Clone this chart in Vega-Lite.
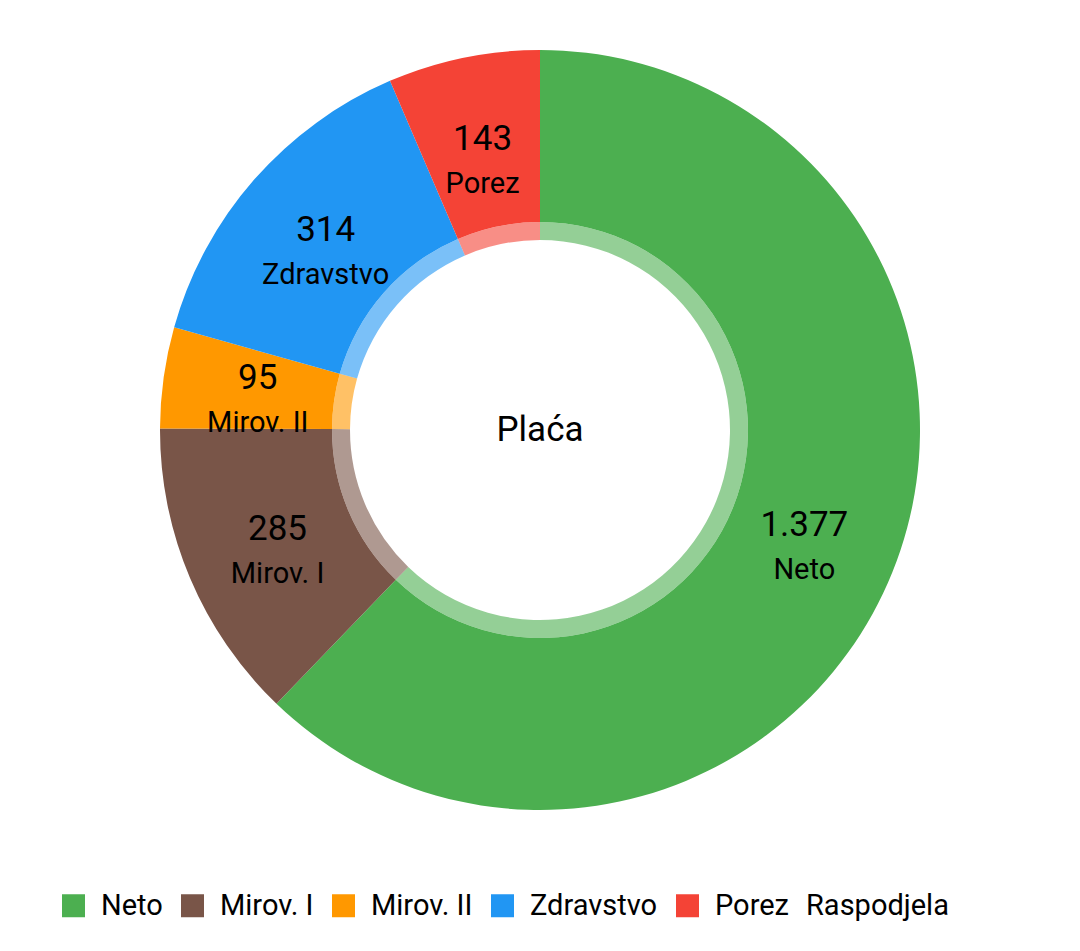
{
  "$schema": "https://vega.github.io/schema/vega-lite/v6.json",
  "width": 984,
  "height": 796,
  "autosize": {"type": "none"},
  "padding": {"left": 48, "top": 32, "right": 48, "bottom": 123},
  "background": "white",
  "config": {
    "view": {"stroke": null},
    "font": "Roboto",
    "locale": {"number": {"decimal": ",", "thousands": ".", "grouping": [3], "currency": ["", ""]}}
  },
  "data": {
    "values": [
      {"idx": 1, "kategorija": "Neto", "iznos": 1377},
      {"idx": 2, "kategorija": "Mirov. I", "iznos": 285},
      {"idx": 3, "kategorija": "Mirov. II", "iznos": 95},
      {"idx": 4, "kategorija": "Zdravstvo", "iznos": 314},
      {"idx": 5, "kategorija": "Porez", "iznos": 143}
    ]
  },
  "encoding": {
    "theta": {"field": "iznos", "type": "quantitative", "stack": true},
    "order": {"field": "idx", "type": "quantitative"}
  },
  "layer": [
    {
      "mark": {"type": "arc", "innerRadius": 208, "outerRadius": 380},
      "encoding": {
        "color": {
          "field": "kategorija",
          "type": "nominal",
          "sort": ["Neto", "Mirov. I", "Mirov. II", "Zdravstvo", "Porez"],
          "scale": {
            "domain": ["Neto", "Mirov. I", "Mirov. II", "Zdravstvo", "Porez"],
            "range": ["#4CAF50", "#795548", "#FF9800", "#2196F3", "#F44336"]
          },
          "legend": {
            "title": "Raspodjela",
            "orient": "none",
            "direction": "horizontal",
            "legendX": 11,
            "legendY": 859,
            "padding": 0,
            "symbolType": "square",
            "symbolSize": 529,
            "symbolStrokeWidth": 0,
            "symbolOpacity": 1,
            "labelFontSize": 29,
            "labelColor": "black",
            "labelOffset": 13,
            "columnPadding": 15,
            "labelLimit": 400,
            "titleOrient": "right",
            "titleFontSize": 29,
            "titleFontWeight": "normal",
            "titleColor": "black",
            "titlePadding": 17,
            "titleBaseline": "middle"
          }
        }
      }
    },
    {
      "mark": {"type": "arc", "innerRadius": 190, "outerRadius": 208, "opacity": 0.6},
      "encoding": {
        "color": {"field": "kategorija", "type": "nominal", "legend": null}
      }
    },
    {
      "mark": {"type": "text", "radius": 285, "dy": -12, "fontSize": 35, "color": "black"},
      "encoding": {
        "text": {"field": "iznos", "type": "quantitative", "format": ",d"}
      }
    },
    {
      "mark": {"type": "text", "radius": 285, "dy": 33, "fontSize": 29, "color": "black"},
      "encoding": {
        "text": {"field": "kategorija", "type": "nominal"}
      }
    },
    {
      "data": {"values": [{"naslov": "Plaća"}]},
      "mark": {"type": "text", "fontSize": 35, "color": "black"},
      "encoding": {
        "text": {"field": "naslov", "type": "nominal"},
        "theta": null,
        "order": null
      }
    }
  ]
}
